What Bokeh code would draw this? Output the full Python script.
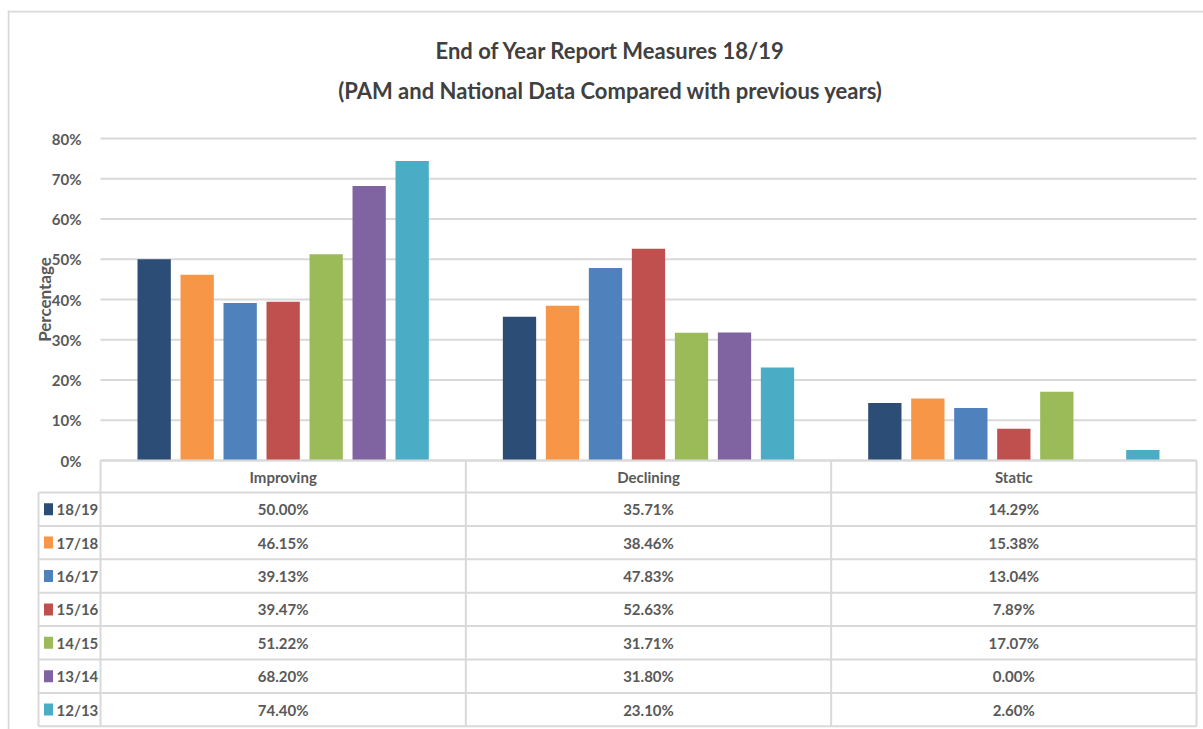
import math
from bokeh.plotting import figure
from bokeh.models import Range1d, FixedTicker, PrintfTickFormatter, ColumnDataSource
from bokeh.core.properties import value
from bokeh.embed import file_html
from bokeh.resources import INLINE

# ---------------- data ----------------
categories = ["Improving", "Declining", "Static"]
series = ["18/19", "17/18", "16/17", "15/16", "14/15", "13/14", "12/13"]
colors = ["#2c4d75", "#f79646", "#4f81bd", "#c0504d", "#9bbb59", "#8064a2", "#4bacc6"]
improving = [50.00, 46.15, 39.13, 39.47, 51.22, 68.20, 74.40]
declining = [35.71, 38.46, 47.83, 52.63, 31.71, 31.80, 23.10]
static = [14.29, 15.38, 13.04, 7.89, 17.07, 0.00, 2.60]
y_ticks = [0, 10, 20, 30, 40, 50, 60, 70, 80]
title_lines = ["End of Year Report Measures 18/19",
               "(PAM and National Data Compared with previous years)"]
y_label = "Percentage"

# ---------------- style / layout (pixels) ----------------
FONT = "Lato"
TXT = "#595959"
GRID = "#d9d9d9"
W, H = 1203, 729
LEFT_EDGE, TOP_EDGE = 7, 10          # chart border
PLOT_L, PLOT_R = 100, 1196           # plot area, horizontally
ZERO_Y, TOP_Y = 460, 138             # 0% and 80% lines
HEADER_PX = 32
ROW_PX = 33.4
TABLE_L = 38
U = (PLOT_R - PLOT_L) / 3.0          # px per category
PX = (ZERO_Y - TOP_Y) / 80.0         # px per percentage point
BAR_STEP = 43.0 / U
BAR_W = 33.3 / U


def dx(px):
    return (px - PLOT_L) / U


def dy(py):
    return (ZERO_Y - py) / PX


values = [improving, declining, static]
n_ser = len(series)
n_cat = len(categories)

p = figure(width=W, height=H, output_backend="svg", toolbar_location=None,
           x_range=Range1d(dx(LEFT_EDGE), dx(W)), y_range=Range1d(dy(H), dy(TOP_EDGE)),
           x_axis_location=None, min_border_left=LEFT_EDGE, min_border_right=0,
           min_border_top=TOP_EDGE, min_border_bottom=0)
p.outline_line_color = None
p.background_fill_color = "white"
p.border_fill_color = "white"
p.grid.visible = False

yax = p.yaxis[0]
yax.ticker = FixedTicker(ticks=y_ticks)
yax.formatter = PrintfTickFormatter(format="%d%%")
yax.axis_line_color = None
yax.major_tick_line_color = None
yax.minor_tick_line_color = None
yax.major_label_standoff = -(87 - LEFT_EDGE)
yax.major_label_text_font = FONT
yax.major_label_text_font_style = "bold"
yax.major_label_text_font_size = "15px"
yax.major_label_text_color = TXT

# chart border (left and top edges)
p.segment(x0=[dx(LEFT_EDGE + 1), dx(LEFT_EDGE)], y0=[dy(H), dy(TOP_EDGE + 1)],
          x1=[dx(LEFT_EDGE + 1), dx(W)], y1=[dy(TOP_EDGE), dy(TOP_EDGE + 1)],
          line_color=GRID, line_width=2)

# horizontal value grid lines over the plot area
p.segment(x0=[0] * len(y_ticks), y0=y_ticks, x1=[n_cat] * len(y_ticks), y1=y_ticks,
          line_color=GRID, line_width=2)

# bars
for j, (name, col) in enumerate(zip(series, colors)):
    off = (j - (n_ser - 1) / 2) * BAR_STEP
    src = ColumnDataSource(dict(
        x=[i + 0.5 + off for i in range(n_cat)],
        top=[values[i][j] for i in range(n_cat)],
    ))
    p.vbar(x="x", top="top", bottom=0, width=BAR_W, source=src,
           fill_color=col, line_color=None)

# ---------------- data table ----------------
hdr_bot = dy(ZERO_Y + HEADER_PX)
row_edges = [dy(ZERO_Y + HEADER_PX + ROW_PX * k) for k in range(n_ser + 1)]
row_cent = [dy(ZERO_Y + HEADER_PX + ROW_PX * (k + 0.5)) for k in range(n_ser)]
x_tab = dx(TABLE_L)

# horizontal lines
p.segment(x0=[0], y0=[0], x1=[n_cat], y1=[0], line_color=GRID, line_width=2)
p.segment(x0=[x_tab] * len(row_edges), y0=row_edges, x1=[n_cat] * len(row_edges),
          y1=row_edges, line_color=GRID, line_width=2)
# vertical lines
vx = list(range(n_cat + 1))
p.segment(x0=vx, y0=[0] * len(vx), x1=vx, y1=[row_edges[-1]] * len(vx),
          line_color=GRID, line_width=2)
p.segment(x0=[x_tab], y0=[hdr_bot], x1=[x_tab], y1=[row_edges[-1]],
          line_color=GRID, line_width=2)

# header
p.text(x=[i + 0.5 for i in range(n_cat)], y=[dy(ZERO_Y + HEADER_PX / 2)] * n_cat,
       text=categories, text_font=value(FONT), text_font_style="bold",
       text_font_size="15px", text_color=TXT, text_align="center",
       text_baseline="middle")

# legend keys + series names
p.rect(x=[dx(48)] * n_ser, y=row_cent, width=9, height=12,
       width_units="screen", height_units="screen", fill_color=colors, line_color=None)
p.text(x=[dx(56)] * n_ser, y=row_cent, text=series,
       text_font=value(FONT), text_font_style="bold", text_font_size="15px",
       text_color=TXT, text_align="left", text_baseline="middle")

cx, cy, ct = [], [], []
for i in range(n_cat):
    for j in range(n_ser):
        cx.append(i + 0.5)
        cy.append(row_cent[j])
        ct.append(f"{values[i][j]:.2f}%")
p.text(x=cx, y=cy, text=ct, text_font=value(FONT), text_font_style="bold",
       text_font_size="15px", text_color=TXT, text_align="center",
       text_baseline="middle")

# ---------------- title and axis title ----------------
p.text(x=[dx(610)] * 2, y=[dy(50), dy(90)], text=title_lines,
       text_font=value(FONT), text_font_style="bold", text_font_size="22px",
       text_color="#404040", text_align="center", text_baseline="middle")
p.text(x=[dx(44)], y=[40], text=[y_label], angle=math.pi / 2,
       text_font=value(FONT), text_font_style="bold", text_font_size="17px",
       text_color=TXT, text_align="center", text_baseline="middle")

open("out.html", "w").write(file_html(p, INLINE))
